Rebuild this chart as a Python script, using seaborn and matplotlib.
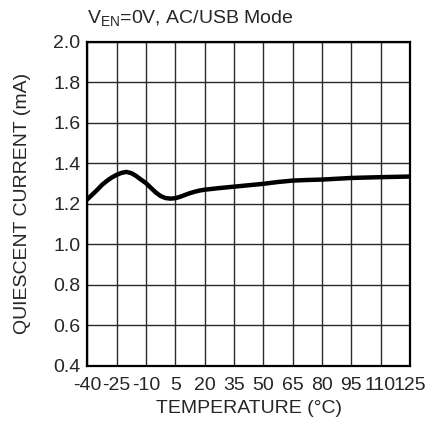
import matplotlib
matplotlib.use("Agg")
import matplotlib.pyplot as plt
import seaborn as sns
import pandas as pd

# values
temperature = [-40, -37.5, -35, -32.5, -30, -27.5, -25, -22.5, -20, -17.5, -15, -12.5,
               -10, -7.5, -5, -2.5, 0, 2.5, 5, 7.5, 10, 12.5, 15, 17.5, 20,
               27.5, 35, 42.5, 50, 57.5, 65, 72.5, 80, 87.5, 95, 110, 125]
current = [1.222, 1.245, 1.268, 1.293, 1.313, 1.330, 1.343, 1.353, 1.358, 1.352, 1.338, 1.320,
           1.303, 1.280, 1.257, 1.239, 1.229, 1.226, 1.228, 1.235, 1.244, 1.253, 1.260, 1.266, 1.270,
           1.278, 1.285, 1.292, 1.299, 1.308, 1.315, 1.318, 1.320, 1.324, 1.328, 1.332, 1.335]

x_ticks = [-40, -25, -10, 5, 20, 35, 50, 65, 80, 95, 110, 125]
y_ticks = [0.4, 0.6, 0.8, 1.0, 1.2, 1.4, 1.6, 1.8, 2.0]

df = pd.DataFrame({"temp": temperature, "iq": current})

sns.set_style("white")
plt.rcParams['font.family'] = ['Liberation Sans', 'DejaVu Sans']
plt.rcParams['mathtext.fontset'] = 'custom'
plt.rcParams['mathtext.rm'] = 'Liberation Sans'
plt.rcParams['mathtext.it'] = 'Liberation Sans'

fs = 14

fig = plt.figure(figsize=(4.36, 4.23), dpi=100)
ax = fig.add_axes([0.2, 0.135, 0.74, 0.766])

sns.lineplot(data=df, x="temp", y="iq", color="black", linewidth=3.2, ax=ax)

ax.set_xlim(-40, 125)
ax.set_ylim(0.4, 2.0)
ax.set_xticks(x_ticks)
ax.set_yticks(y_ticks)
ax.set_xticklabels([str(t) for t in x_ticks], fontsize=fs)
ax.set_yticklabels([f"{t:.1f}" for t in y_ticks], fontsize=fs)
ax.tick_params(axis="x", length=0, pad=8)
ax.tick_params(axis="y", length=0, pad=5)
ax.grid(True, color="#2a2a2a", linewidth=1)
for s in ax.spines.values():
    s.set_color("black")
    s.set_linewidth(1.6)

ax.set_xlabel("TEMPERATURE (°C)", fontsize=fs, labelpad=4)
ax.set_ylabel("QUIESCENT CURRENT (mA)", fontsize=fs, labelpad=16)
fig.text(0.2, 0.958, r"V$_{\mathrm{EN}}$=0V, AC/USB Mode", fontsize=fs, va="center")

fig.savefig("out.png", dpi=100)
